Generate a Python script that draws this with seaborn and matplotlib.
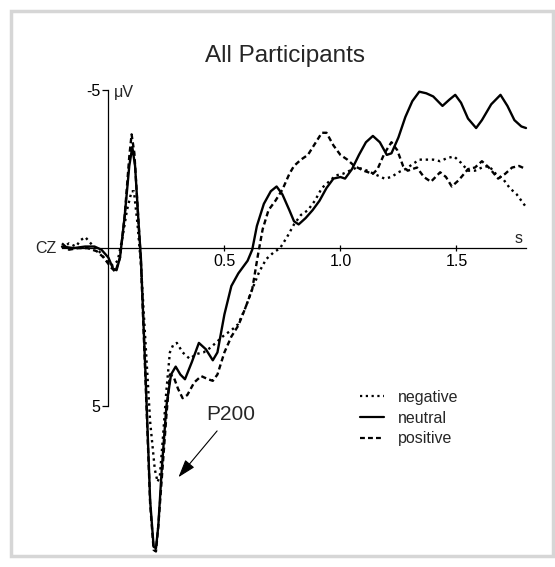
import numpy as np
import pandas as pd
import matplotlib
matplotlib.use("Agg")
import matplotlib.pyplot as plt
from matplotlib.patches import Rectangle
from matplotlib.lines import Line2D
import seaborn as sns

# ---------------- data ----------------
t_neutral = [-0.20, -0.15, -0.10, -0.06, -0.03, 0.00, 0.02, 0.035, 0.05, 0.07, 0.09, 0.103, 0.115,
             0.13, 0.14, 0.16, 0.18, 0.195, 0.205, 0.215, 0.23, 0.25, 0.27, 0.29, 0.31, 0.33, 0.36,
             0.39, 0.42, 0.45, 0.47, 0.50, 0.53, 0.56, 0.60, 0.62, 0.64, 0.67, 0.70, 0.725, 0.75,
             0.78, 0.80, 0.82, 0.85, 0.88, 0.91, 0.94, 0.97, 1.00, 1.02, 1.05, 1.08, 1.11, 1.14,
             1.17, 1.20, 1.22, 1.25, 1.28, 1.31, 1.34, 1.37, 1.40, 1.44, 1.47, 1.495, 1.52, 1.55,
             1.585, 1.61, 1.65, 1.69, 1.72, 1.75, 1.78, 1.80]
v_neutral = [-0.05, 0.0, -0.05, -0.05, 0.05, 0.3, 0.65, 0.7, 0.3, -1.0, -2.6, -3.2, -2.6,
             -0.8, 0.3, 4.0, 8.0, 9.45, 9.5, 8.8, 7.0, 5.0, 4.0, 3.75, 4.0, 4.15, 3.6,
             3.0, 3.2, 3.55, 3.3, 2.1, 1.2, 0.8, 0.4, 0.05, -0.7, -1.4, -1.8, -1.95, -1.7,
             -1.2, -0.85, -0.75, -0.95, -1.2, -1.5, -1.9, -2.2, -2.25, -2.2, -2.5, -2.95, -3.35, -3.55,
             -3.35, -2.95, -3.0, -3.5, -4.15, -4.65, -4.95, -4.9, -4.8, -4.5, -4.7, -4.85, -4.6, -4.1,
             -3.8, -4.05, -4.55, -4.85, -4.5, -4.05, -3.85, -3.8]

t_positive = [-0.20, -0.17, -0.13, -0.09, -0.05, -0.02, 0.01, 0.03, 0.05, 0.07, 0.09, 0.10, 0.112,
              0.13, 0.14, 0.16, 0.18, 0.195, 0.205, 0.215, 0.23, 0.25, 0.265, 0.28, 0.30, 0.32, 0.34,
              0.37, 0.40, 0.43, 0.45, 0.47, 0.50, 0.53, 0.56, 0.59, 0.62, 0.645, 0.665, 0.69, 0.72,
              0.75, 0.78, 0.80, 0.83, 0.86, 0.89, 0.92, 0.94, 0.97, 1.00, 1.03, 1.06, 1.10, 1.14,
              1.16, 1.19, 1.22, 1.245, 1.27, 1.29, 1.33, 1.36, 1.39, 1.43, 1.455, 1.48, 1.51, 1.55,
              1.58, 1.61, 1.64, 1.68, 1.71, 1.74, 1.77, 1.80]
v_positive = [-0.15, 0.05, 0.0, 0.0, 0.1, 0.3, 0.6, 0.75, 0.3, -1.0, -2.9, -3.6, -3.0,
              -0.8, 0.4, 4.2, 8.1, 9.55, 9.6, 8.8, 7.3, 5.3, 4.0, 4.05, 4.45, 4.75, 4.65,
              4.25, 4.05, 4.15, 4.2, 4.0, 3.3, 2.8, 2.45, 1.9, 1.3, 0.2, -0.6, -1.2, -1.5,
              -1.85, -2.35, -2.6, -2.8, -2.95, -3.3, -3.65, -3.65, -3.25, -2.95, -2.8, -2.6, -2.45, -2.35,
              -2.5, -3.0, -3.35, -3.1, -2.6, -2.45, -2.55, -2.25, -2.1, -2.4, -2.25, -1.95, -2.15, -2.5,
              -2.55, -2.75, -2.55, -2.2, -2.35, -2.55, -2.6, -2.5]

t_negative = [-0.20, -0.17, -0.14, -0.12, -0.10, -0.07, -0.04, -0.01, 0.02, 0.04, 0.06, 0.08, 0.10,
              0.11, 0.125, 0.14, 0.16, 0.18, 0.20, 0.212, 0.222, 0.235, 0.25, 0.265, 0.28, 0.295, 0.32,
              0.35, 0.38, 0.41, 0.44, 0.47, 0.50, 0.53, 0.56, 0.59, 0.62, 0.65, 0.68, 0.71, 0.74,
              0.77, 0.80, 0.83, 0.86, 0.89, 0.92, 0.95, 0.98, 1.01, 1.04, 1.07, 1.10, 1.13, 1.16,
              1.19, 1.22, 1.25, 1.28, 1.31, 1.34, 1.37, 1.40, 1.43, 1.46, 1.49, 1.52, 1.55, 1.58,
              1.61, 1.64, 1.67, 1.70, 1.73, 1.76, 1.78, 1.80]
v_negative = [0.0, -0.15, -0.05, -0.25, -0.35, -0.1, 0.1, 0.4, 0.55, 0.4, -0.3, -1.2, -1.8,
              -1.8, -0.8, 0.5, 3.0, 5.5, 7.0, 7.4, 7.2, 6.0, 4.5, 3.3, 3.05, 3.0, 3.3,
              3.5, 3.35, 3.3, 3.15, 2.95, 2.75, 2.6, 2.4, 1.9, 1.3, 0.75, 0.35, 0.15, 0.0,
              -0.35, -0.75, -1.05, -1.2, -1.5, -1.9, -2.1, -2.3, -2.35, -2.45, -2.55, -2.5, -2.4, -2.3,
              -2.2, -2.25, -2.4, -2.5, -2.65, -2.8, -2.8, -2.8, -2.75, -2.85, -2.9, -2.7, -2.45, -2.45,
              -2.55, -2.6, -2.35, -2.2, -1.9, -1.7, -1.5, -1.3]

conditions = ["negative", "neutral", "positive"]
y_ticks = [-5, 5]
y_tick_labels = ["-5", "5"]
x_ticks = [0.5, 1.0, 1.5]
x_tick_labels = ["0.5", "1.0", "1.5"]

df = pd.concat([
    pd.DataFrame({"t": t_negative, "v": v_negative, "cond": "negative"}),
    pd.DataFrame({"t": t_neutral, "v": v_neutral, "cond": "neutral"}),
    pd.DataFrame({"t": t_positive, "v": v_positive, "cond": "positive"}),
], ignore_index=True)

# ---------------- style ----------------
sns.set_style("white")
plt.rcParams["font.family"] = ["Liberation Sans", "DejaVu Sans"]

W, H = 555, 567
fig = plt.figure(figsize=(W / 100, H / 100), dpi=100)
ax = fig.add_axes([62 / W, (H - 560) / H, 464 / W, 480 / H])
ax.set_facecolor("none")

dash_map = {"negative": (1, 1.6), "neutral": "", "positive": (2.2, 1.4)}
sns.lineplot(data=df, x="t", y="v", style="cond", style_order=conditions,
             dashes=dash_map, color="black", linewidth=1.7, estimator=None,
             sort=False, legend=False, ax=ax)
for ln in ax.get_lines():
    ln.set_clip_on(False)
    ln.set_solid_joinstyle("round")
    ln.set_dash_joinstyle("round")

ax.set_xlim(-0.2, 1.8)
ax.set_ylim(9.87, -5.32)  # inverted: negative up
ax.set_xlabel("")
ax.set_ylabel("")

# spines crossing at origin
for s in ["top", "right"]:
    ax.spines[s].set_visible(False)
ax.spines["left"].set_position(("data", 0))
ax.spines["bottom"].set_position(("data", 0))
ax.spines["left"].set_bounds(-5, 5)
ax.spines["bottom"].set_bounds(-0.2, 1.8)
for s in ["left", "bottom"]:
    ax.spines[s].set_linewidth(0.9)
    ax.spines[s].set_color("black")

ax.set_yticks(y_ticks)
ax.set_yticklabels(y_tick_labels)
ax.set_xticks(x_ticks)
ax.set_xticklabels(x_tick_labels)
ax.tick_params(axis="y", left=True, direction="out", length=4, width=0.9, pad=2,
               labelsize=11.5, colors="black")
ax.tick_params(axis="x", bottom=True, direction="inout", length=5, width=0.9, pad=2,
               labelsize=11.5, colors="black")

# extra labels
ax.annotate("\u03bcV", xy=(0, -5), xytext=(4, -1.5), textcoords="offset points",
            ha="left", va="center", fontsize=11.5)
ax.annotate("CZ", xy=(-0.2, 0), xytext=(-4, 0), textcoords="offset points",
            ha="right", va="center", fontsize=11.5)
ax.annotate("s", xy=(1.77, 0), xytext=(0, 1.5), textcoords="offset points",
            ha="center", va="bottom", fontsize=11.5)

# P200 annotation
ax.annotate("P200", xy=(0.302, 7.25), xytext=(0.526, 5.28), textcoords="data",
            ha="center", va="center", fontsize=15,
            arrowprops=dict(arrowstyle="-|>,head_length=0.55,head_width=0.18",
                            mutation_scale=20, color="black", lw=0.8,
                            shrinkA=3, shrinkB=0))

# legend
handles = [Line2D([], [], color="black", lw=1.6, dashes=dash_map[c]) if dash_map[c]
           else Line2D([], [], color="black", lw=1.6) for c in conditions]
fig.legend(handles, conditions, loc="upper left", bbox_to_anchor=(360 / W, 1 - 390 / H),
           frameon=False, fontsize=11.5, handlelength=1.5, handletextpad=0.9,
           labelspacing=0.35, borderpad=0, borderaxespad=0)

# title
fig.text(285 / W, 1 - 56 / H, "All Participants", ha="center", va="center", fontsize=17.5)

# light grey frame
fig.patches.append(Rectangle((10.5 / W, (H - 556) / H), (553 - 10.5) / W, (556 - 10.5) / H,
                             transform=fig.transFigure, fill=False, ec="#d6d6d6", lw=2.5))

fig.savefig("out.png", dpi=100)
